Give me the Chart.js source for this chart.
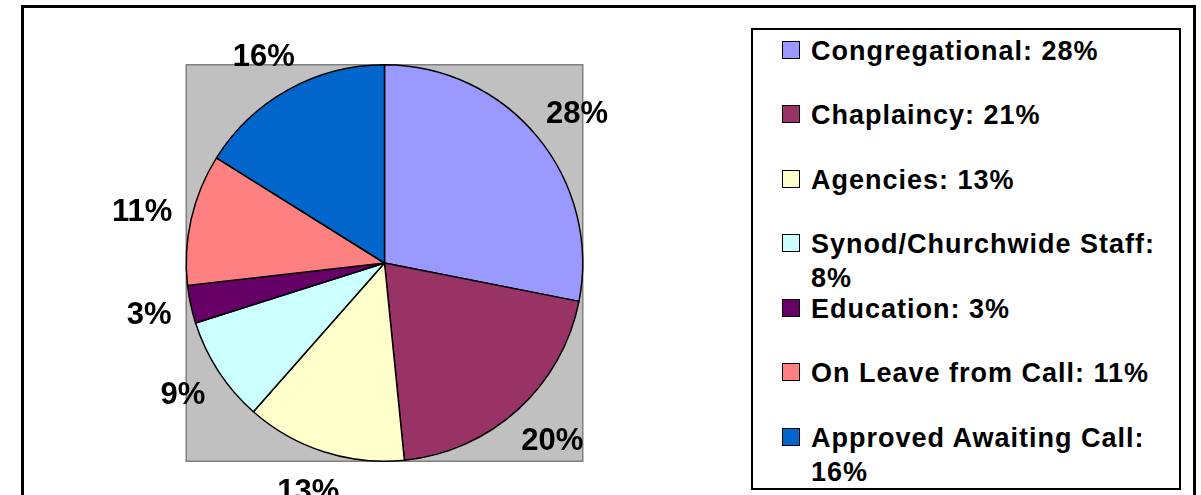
<!DOCTYPE html>
<html><head><meta charset="utf-8">
<script src="https://cdn.jsdelivr.net/npm/chart.js@4.4.1/dist/chart.umd.min.js"></script>
<style>
html,body{margin:0;padding:0;background:#fff;overflow:hidden;width:1201px;height:495px;}
#frame{position:absolute;left:21px;top:5px;width:1169px;height:600px;border:3px solid #000;}
#c{position:absolute;left:0;top:0;}
#legend{position:absolute;left:751px;top:28px;width:426px;height:458px;border:2px solid #000;background:#fff;}
.item{position:absolute;left:0;right:0;height:34px;}
.sw{position:absolute;left:29px;top:7px;width:16px;height:16px;border:1px solid #000;}
.tx{position:absolute;left:58px;right:8px;top:0;font:bold 27px "Liberation Sans",Arial,sans-serif;line-height:34px;letter-spacing:1px;color:#000;}
</style>
</head>
<body>
<div id="frame"></div>
<canvas id="c" width="1201" height="495"></canvas>
<div id="legend"></div>
<script>
// ---- data ----
const categories = ["Congregational", "Chaplaincy", "Agencies", "Synod/Churchwide Staff", "Education", "On Leave from Call", "Approved Awaiting Call"];
const sliceValues = [28.1, 20.3, 13.1, 8.6, 3.1, 10.7, 16.1];
const sliceLabels = ["28%", "20%", "13%", "9%", "3%", "11%", "16%"];
const legendPercents = ["28%", "21%", "13%", "8%", "3%", "11%", "16%"];
const sliceColors = ["#9999FF", "#993366", "#FFFFCC", "#CCFFFF", "#660066", "#FF8080", "#0066CC"];

const LABEL_GAP = 20;
const LABEL_BOX_H = 40;
const LABEL_FONT_PX = 31;
const LEGEND_FIRST = 3.5;
const LEGEND_PITCH = 64.5;

const plotBg = {
  id: 'plotBg',
  beforeDatasetsDraw(chart) {
    const arc = chart.getDatasetMeta(0).data[0];
    if (!arc) return;
    const ctx = chart.ctx;
    const r = arc.outerRadius;
    ctx.save();
    ctx.fillStyle = '#C0C0C0';
    ctx.fillRect(arc.x - r, arc.y - r, 2 * r, 2 * r);
    ctx.strokeStyle = '#808080';
    ctx.lineWidth = 1.5;
    ctx.strokeRect(arc.x - r, arc.y - r, 2 * r, 2 * r);
    ctx.restore();
  }
};

const pieLabels = {
  id: 'pieLabels',
  afterDatasetsDraw(chart) {
    const ctx = chart.ctx;
    const meta = chart.getDatasetMeta(0);
    ctx.save();
    ctx.font = 'bold ' + LABEL_FONT_PX + 'px "Liberation Sans", Arial, sans-serif';
    ctx.fillStyle = '#000';
    ctx.textAlign = 'center';
    ctx.textBaseline = 'alphabetic';
    meta.data.forEach((arc, i) => {
      const mid = (arc.startAngle + arc.endAngle) / 2;
      const ux = Math.cos(mid), uy = Math.sin(mid);
      const txt = sliceLabels[i];
      const w = ctx.measureText(txt).width;
      const ax = arc.x + ux * (arc.outerRadius + LABEL_GAP);
      const ay = arc.y + uy * (arc.outerRadius + LABEL_GAP);
      const cx = ax + ux * w / 2;
      const cy = ay + uy * LABEL_BOX_H / 2;
      ctx.fillText(txt, cx, cy + 0.358 * LABEL_FONT_PX);
    });
    ctx.restore();
  }
};

const htmlLegend = {
  id: 'htmlLegend',
  afterUpdate(chart) {
    const box = document.getElementById('legend');
    box.innerHTML = '';
    const ds = chart.data.datasets[0];
    chart.data.labels.forEach((lab, i) => {
      const item = document.createElement('div');
      item.className = 'item';
      item.style.top = (LEGEND_FIRST + i * LEGEND_PITCH) + 'px';
      const sw = document.createElement('div');
      sw.className = 'sw';
      sw.style.background = ds.backgroundColor[i];
      const tx = document.createElement('div');
      tx.className = 'tx';
      tx.textContent = lab + ': ' + legendPercents[i];
      item.appendChild(sw);
      item.appendChild(tx);
      box.appendChild(item);
    });
  }
};

new Chart(document.getElementById('c'), {
  type: 'pie',
  data: {
    labels: categories,
    datasets: [{
      data: sliceValues,
      backgroundColor: sliceColors,
      borderColor: '#000',
      borderWidth: 1.5
    }]
  },
  options: {
    responsive: false,
    animation: false,
    devicePixelRatio: 1,
    layout: { padding: { left: 185.5, right: 617.5, top: 64, bottom: 33 } },
    plugins: {
      legend: { display: false },
      tooltip: { enabled: false }
    }
  },
  plugins: [plotBg, pieLabels, htmlLegend]
});
</script>
</body></html>
